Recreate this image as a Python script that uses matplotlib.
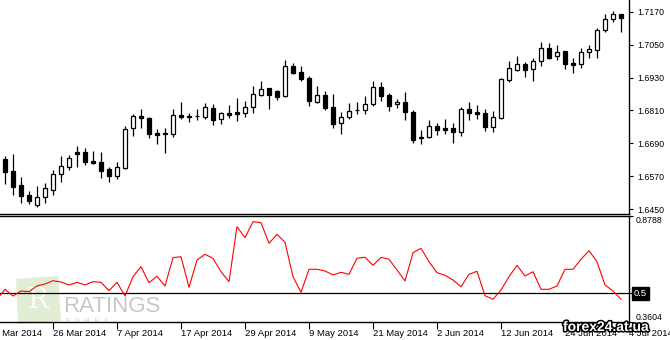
import numpy as np
import matplotlib
matplotlib.use("Agg")
import matplotlib.pyplot as plt
import matplotlib.patheffects as pe
from matplotlib.patches import Polygon

plt.rcParams["font.family"] = ["Liberation Sans", "DejaVu Sans"]

# 일봉 OHLC
opens = [1.6633, 1.6590, 1.6539, 1.6502, 1.6467, 1.6494, 1.6521, 1.6577, 1.6605, 1.6659,
         1.6659, 1.6626, 1.6622, 1.6597, 1.6572, 1.6601, 1.6745, 1.6790, 1.6783, 1.6728,
         1.6725, 1.6725, 1.6794, 1.6788, 1.6790, 1.6787, 1.6818, 1.6778, 1.6801, 1.6804,
         1.6802, 1.6824, 1.6867, 1.6891, 1.6881, 1.6864, 1.6971, 1.6950, 1.6928, 1.6840,
         1.6866, 1.6823, 1.6763, 1.6785, 1.6810, 1.6811, 1.6835, 1.6894, 1.6866, 1.6833,
         1.6841, 1.6804, 1.6714, 1.6712, 1.6753, 1.6747, 1.6746, 1.6733, 1.6814, 1.6804,
         1.6800, 1.6751, 1.6782, 1.6920, 1.6958, 1.6978, 1.6960, 1.6989, 1.7037, 1.7010,
         1.7026, 1.6983, 1.6978, 1.7022, 1.7029, 1.7102, 1.7144, 1.7160]
highs = [1.6645, 1.6651, 1.6568, 1.6517, 1.6535, 1.6546, 1.6593, 1.6645, 1.6648, 1.6682,
         1.6673, 1.6662, 1.6659, 1.6604, 1.6622, 1.6752, 1.6797, 1.6815, 1.6785, 1.6743,
         1.6746, 1.6817, 1.6841, 1.6801, 1.6815, 1.6837, 1.6834, 1.6804, 1.6830, 1.6856,
         1.6845, 1.6899, 1.6917, 1.6892, 1.6885, 1.6994, 1.6983, 1.6972, 1.6935, 1.6899,
         1.6881, 1.6870, 1.6804, 1.6837, 1.6841, 1.6863, 1.6917, 1.6914, 1.6874, 1.6852,
         1.6877, 1.6812, 1.6739, 1.6775, 1.6764, 1.6780, 1.6764, 1.6824, 1.6841, 1.6830,
         1.6815, 1.6808, 1.6928, 1.6990, 1.7009, 1.6987, 1.7001, 1.7060, 1.7055, 1.7049,
         1.7028, 1.7000, 1.7037, 1.7050, 1.7111, 1.7162, 1.7172, 1.7161]
lows = [1.6541, 1.6502, 1.6474, 1.6470, 1.6459, 1.6474, 1.6503, 1.6551, 1.6594, 1.6605,
        1.6612, 1.6616, 1.6565, 1.6551, 1.6561, 1.6598, 1.6718, 1.6747, 1.6711, 1.6689,
        1.6656, 1.6714, 1.6780, 1.6769, 1.6775, 1.6780, 1.6758, 1.6762, 1.6784, 1.6773,
        1.6787, 1.6802, 1.6864, 1.6817, 1.6849, 1.6860, 1.6944, 1.6919, 1.6827, 1.6838,
        1.6813, 1.6747, 1.6725, 1.6780, 1.6798, 1.6798, 1.6827, 1.6846, 1.6809, 1.6820,
        1.6776, 1.6693, 1.6689, 1.6710, 1.6722, 1.6725, 1.6693, 1.6718, 1.6776, 1.6780,
        1.6736, 1.6733, 1.6780, 1.6913, 1.6954, 1.6933, 1.6917, 1.6973, 1.6999, 1.6994,
        1.6962, 1.6948, 1.6965, 1.7002, 1.7002, 1.7097, 1.7134, 1.7097]
closes = [1.6587, 1.6532, 1.6500, 1.6481, 1.6495, 1.6526, 1.6579, 1.6608, 1.6636, 1.6652,
          1.6623, 1.6620, 1.6591, 1.6572, 1.6604, 1.6743, 1.6790, 1.6782, 1.6725, 1.6722,
          1.6727, 1.6792, 1.6787, 1.6789, 1.6791, 1.6822, 1.6776, 1.6800, 1.6795, 1.6798,
          1.6822, 1.6869, 1.6887, 1.6867, 1.6860, 1.6971, 1.6948, 1.6926, 1.6846, 1.6865,
          1.6820, 1.6762, 1.6785, 1.6808, 1.6811, 1.6833, 1.6894, 1.6864, 1.6827, 1.6841,
          1.6806, 1.6704, 1.6709, 1.6752, 1.6740, 1.6740, 1.6733, 1.6814, 1.6800, 1.6798,
          1.6751, 1.6785, 1.6925, 1.6964, 1.6978, 1.6959, 1.6990, 1.7037, 1.7002, 1.7023,
          1.6980, 1.6977, 1.7022, 1.7033, 1.7102, 1.7144, 1.7160, 1.7148]

# 하단 오실레이터 (첫 값은 화면 왼쪽 밖 봉)
osc = [0.4715, 0.5204, 0.4876, 0.5120, 0.5086, 0.5365, 0.5463, 0.5624, 0.5561, 0.5414, 0.5546,
       0.5414, 0.5575, 0.5546, 0.5135, 0.5546, 0.4876, 0.5820, 0.6309, 0.5526, 0.5839,
       0.5365, 0.6749, 0.6798, 0.5301, 0.6636, 0.6915, 0.6720, 0.6064, 0.5575, 0.8265,
       0.7727, 0.8509, 0.8460, 0.7453, 0.7893, 0.7502, 0.5820, 0.5057, 0.6182, 0.6182,
       0.6098, 0.5903, 0.6035, 0.5937, 0.6720, 0.6768, 0.6377, 0.6768, 0.6671, 0.6147,
       0.5609, 0.6993, 0.7209, 0.6553, 0.6015, 0.5888, 0.5658, 0.5331, 0.5937, 0.6084,
       0.4891, 0.4715, 0.5169, 0.5820, 0.6377, 0.5854, 0.6064, 0.5204, 0.5204, 0.5365,
       0.6182, 0.6182, 0.6671, 0.7091, 0.6553, 0.5414, 0.5120, 0.4715]
osc_level = 0.5
osc_top, osc_bottom = 0.8788, 0.3604

price_ticks = [1.6450, 1.6570, 1.6690, 1.6810, 1.6930, 1.7050, 1.7170]
date_pos = [-2, 6, 14, 22, 30, 38, 46, 54, 62, 70, 78]
date_labels = ["14 Mar 2014", "26 Mar 2014", "7 Apr 2014", "17 Apr 2014", "29 Apr 2014",
               "9 May 2014", "21 May 2014", "2 Jun 2014", "12 Jun 2014", "24 Jun 2014",
               "4 Jul 2014"]

W, H = 670, 340


def fx(x):
    return x / W


def fy(y):
    return 1 - y / H


fig = plt.figure(figsize=(W / 100, H / 100), dpi=100)
fig.patch.set_facecolor("white")

ax1 = fig.add_axes([0, fy(213.5), fx(628.5), 213.5 / H])
ax2 = fig.add_axes([0, fy(322.3), fx(628.5), (322.3 - 216) / H])

xmin, xmax = -5 / 8, (628.5 - 5) / 8

# --- 캔들 ---
o = np.array(opens)
c = np.array(closes)
idx = np.arange(len(o))
up = c >= o
ax1.vlines(idx, lows, highs, color="black", lw=0.9, zorder=2)
ax1.bar(idx, np.abs(c - o), bottom=np.minimum(o, c), width=0.62,
        color=np.where(up, "white", "black"), edgecolor="black",
        linewidth=0.9, zorder=3)
ax1.yaxis.tick_right()
ax1.set_yticks(price_ticks)
ax1.set_yticklabels([f"{p:.4f}" for p in price_ticks], fontsize=6.3)
ax1.tick_params(axis="y", direction="out", length=3, width=0.8, pad=3)
ax1.set_xticks([])
ax1.set_xlim(xmin, xmax)
ax1.set_ylim(1.72126 - 213.5 * 0.0003644, 1.72126)
for s in ("top", "left"):
    ax1.spines[s].set_visible(False)
for s in ("right", "bottom"):
    ax1.spines[s].set_linewidth(1.0)

# --- 오실레이터 ---
ox = np.arange(-1, len(osc) - 1)
ax2.plot(ox, osc, color="#ff0000", lw=0.8, zorder=3)
ax2.axhline(osc_level, color="black", lw=0.9, zorder=2)
ax2.yaxis.tick_right()
ax2.set_yticks([osc_top, osc_level, osc_bottom])
ax2.set_yticklabels([])
ax2.tick_params(axis="y", direction="out", length=3, width=0.8)
ax2.set_xticks(date_pos)
ax2.set_xticklabels([])
ax2.tick_params(axis="x", direction="out", length=5, width=0.8)
ax2.set_xlim(xmin, xmax)
ax2.set_ylim(osc_top - (322.3 - 216) * 0.00489, osc_top)
ax2.spines["left"].set_visible(False)
for s in ("top", "right", "bottom"):
    ax2.spines[s].set_linewidth(1.0)

yt = ax2.get_yaxis_transform()
ax2.text(1.012, osc_top, f"{osc_top:.4f}", transform=yt, fontsize=6.3,
         va="top", ha="left", clip_on=False)
ax2.text(1.012, osc_bottom, f"{osc_bottom:.4f}", transform=yt, fontsize=6.3,
         va="bottom", ha="left", clip_on=False)
ax2.text(1.008, osc_level, "0.5", transform=yt, fontsize=6.8, color="white",
         va="center", ha="left", clip_on=False,
         bbox=dict(boxstyle="square,pad=0.2", fc="black", ec="black"))

xt = ax2.get_xaxis_transform()
for p, lab in zip(date_pos, date_labels):
    ax2.text(p, -0.065, lab, transform=xt, fontsize=6.8,
             ha="left", va="top", clip_on=False)

# --- 워터마크 ---
logo = Polygon([(fx(16), fy(279)), (fx(58), fy(276)), (fx(61), fy(321)), (fx(18), fy(324))],
               closed=True, transform=fig.transFigure, fc="#c9dfb4", ec="none",
               alpha=0.55, zorder=0.5, clip_on=False)
ax2.add_patch(logo)
ax2.text(fx(38), fy(300), "R", transform=fig.transFigure, fontsize=20,
         family="DejaVu Serif", color="white", alpha=0.9, ha="center",
         va="center", zorder=0.6)
ax2.text(fx(63), fy(312), "RATINGS", transform=fig.transFigure, fontsize=16,
         color="#b4b4b4", alpha=0.75, ha="left", va="baseline", zorder=0.6)
ax2.text(fx(66), fy(322), "F   O   R   E   X", transform=fig.transFigure,
         fontsize=4.5, color="#c8c8c8", ha="left", va="baseline", zorder=0.6)

fig.text(fx(563), fy(331), "forex24.at.ua", fontsize=10, fontweight="bold",
         color="white", ha="left", va="baseline", zorder=10,
         path_effects=[pe.withStroke(linewidth=2.2, foreground="black")])

fig.savefig("out.png", dpi=100)
